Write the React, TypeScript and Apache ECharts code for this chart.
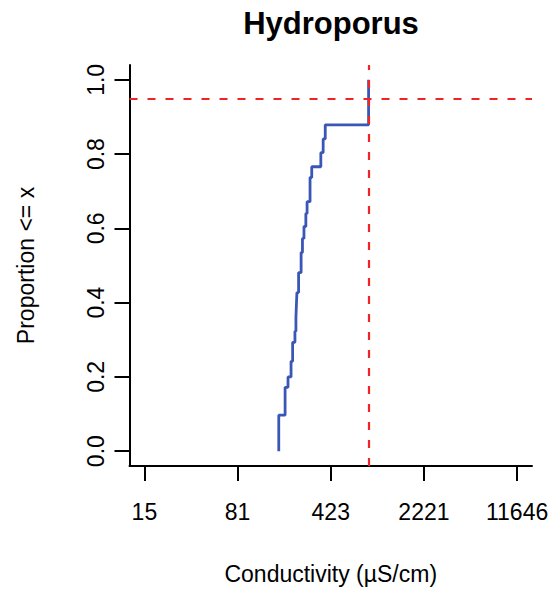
import React, { useEffect, useRef } from "react";
import * as echarts from "echarts";

// ECDF step points (conductivity in µS/cm, cumulative proportion)
const conductivity = [168, 168, 188, 198, 209, 215, 224, 228, 230, 232, 239, 250, 256, 263, 272, 278, 293, 302, 355, 370, 384, 830, 830];
const proportion = [0, 0.097, 0.172, 0.2, 0.242, 0.293, 0.323, 0.36, 0.395, 0.427, 0.481, 0.535, 0.573, 0.605, 0.64, 0.672, 0.737, 0.766, 0.804, 0.841, 0.879, 0.96, 1.0];

// Axis ticks
const xTickValues = [15.4, 80.8, 423.6, 2221, 11646];
const xTickLabels = ["15", "81", "423", "2221", "11646"];
const yTickValues = [0, 0.2, 0.4, 0.6, 0.8, 1.0];
const yTickLabels = ["0.0", "0.2", "0.4", "0.6", "0.8", "1.0"];

// Reference lines
const thresholdConductivity = 830;
const thresholdProportion = 0.95;

const FONT = "'Liberation Sans', Arial, Helvetica, sans-serif";

export default function App() {
  const ref = useRef<HTMLDivElement>(null);

  useEffect(() => {
    if (!ref.current) return;
    const chart = echarts.init(ref.current, undefined, { renderer: "svg" });
    const lg = (v: number) => Math.log10(v);
    const xTicksLog = xTickValues.map(lg);
    const span = xTicksLog[xTicksLog.length - 1] - xTicksLog[0];
    const xMin = xTicksLog[0] - span * 0.04;
    const xMax = xTicksLog[xTicksLog.length - 1] + span * 0.04;

    const xLabelFor = (v: number) => {
      let best = 0;
      let bd = Infinity;
      xTicksLog.forEach((t, i) => {
        const d = Math.abs(t - v);
        if (d < bd) {
          bd = d;
          best = i;
        }
      });
      return xTickLabels[best];
    };
    const yLabelFor = (v: number) => {
      const i = yTickValues.findIndex((t) => Math.abs(t - v) < 1e-6);
      return i >= 0 ? yTickLabels[i] : "";
    };

    const data = conductivity.map((c, i) => [lg(c), proportion[i]]);

    chart.setOption({
      animation: false,
      backgroundColor: "#ffffff",
      textStyle: { fontFamily: FONT },
      title: {
        text: "Hydroporus",
        left: 326,
        top: 3,
        textAlign: "center",
        textStyle: { fontFamily: FONT, fontWeight: "bold", fontSize: 31, color: "#000" },
      },
      grid: { left: 129.5, right: 25, top: 65, bottom: 123, containLabel: false },
      xAxis: {
        type: "value",
        min: xMin,
        max: xMax,
        name: "Conductivity (µS/cm)",
        nameLocation: "middle",
        nameGap: 96,
        nameTextStyle: { fontFamily: FONT, fontSize: 23, color: "#000" },
        axisLine: { show: true, onZero: false, lineStyle: { color: "#000", width: 2 } },
        axisTick: { show: true, length: 15, lineStyle: { color: "#000", width: 2 }, customValues: xTicksLog },
        axisLabel: {
          show: true,
          margin: 34,
          fontFamily: FONT,
          fontSize: 23,
          color: "#000",
          customValues: xTicksLog,
          formatter: (v: number) => xLabelFor(v),
        },
        splitLine: { show: false },
      },
      yAxis: {
        type: "value",
        min: -0.04,
        max: 1.04,
        name: "Proportion <= x",
        nameLocation: "middle",
        nameGap: 92,
        nameRotate: 90,
        nameTextStyle: { fontFamily: FONT, fontSize: 23, color: "#000" },
        axisLine: { show: true, onZero: false, lineStyle: { color: "#000", width: 2 } },
        axisTick: { show: true, length: 15, lineStyle: { color: "#000", width: 2 }, customValues: yTickValues },
        axisLabel: {
          show: true,
          rotate: 90,
          margin: 22,
          fontFamily: FONT,
          fontSize: 23,
          color: "#000",
          customValues: yTickValues,
          formatter: (v: number) => yLabelFor(v),
        },
        splitLine: { show: false },
      },
      series: [
        {
          type: "line",
          step: "end",
          data,
          showSymbol: false,
          symbol: "none",
          lineStyle: { color: "#3a57b5", width: 2.8 },
          silent: true,
          z: 2,
          markLine: {
            silent: true,
            symbol: ["none", "none"],
            label: { show: false },
            lineStyle: { color: "#f02424", width: 2.2, type: [8, 10] },
            data: [{ xAxis: lg(thresholdConductivity) }, { yAxis: thresholdProportion }],
          },
        },
      ],
    });
    return () => chart.dispose();
  }, []);

  return (
    <div
      ref={ref}
      style={{ position: "fixed", left: 0, top: 0, width: 557, height: 590, background: "#fff" }}
    />
  );
}
